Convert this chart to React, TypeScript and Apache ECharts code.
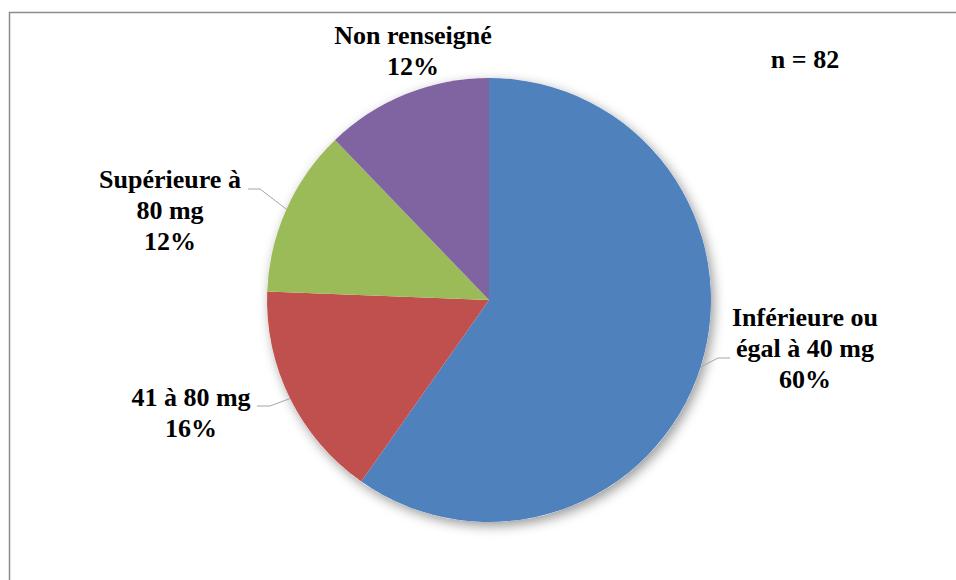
import React, { useEffect, useRef } from "react";
import * as echarts from "echarts";

const categories = [
  "Inférieure ou\négal à 40 mg",
  "41 à 80 mg",
  "Supérieure à\n80 mg",
  "Non renseigné",
];
const values = [49, 13, 10, 10];
const colors = ["#4F81BD", "#C0504D", "#9BBB59", "#8064A2"];
const sampleNote = "n = 82";

// label placement: block centre, leader horizontal segment (y, start x near label, knee x)
const labelPlacement = [
  { x: 805, y: 348, lineY: 358, lineStart: 730, lineKnee: 718, showLine: true },
  { x: 191, y: 413, lineY: 406, lineStart: 257, lineKnee: 270, showLine: true },
  { x: 170, y: 210, lineY: 189, lineStart: 248, lineKnee: 260, showLine: true },
  { x: 413, y: 51, lineY: 51, lineStart: 413, lineKnee: 413, showLine: false },
];

const FONT = "Times New Roman, Liberation Serif, DejaVu Serif, serif";

export default function App() {
  const ref = useRef<HTMLDivElement>(null);
  useEffect(() => {
    if (!ref.current) return;
    const chart = echarts.init(ref.current, undefined, { renderer: "svg" });
    const total = values.reduce((a, b) => a + b, 0);
    chart.setOption({
      animation: false,
      backgroundColor: "#ffffff",
      textStyle: { fontFamily: FONT },
      graphic: [
        {
          type: "rect",
          shape: { x: 9.5, y: 12.5, width: 1000, height: 700 },
          style: { fill: "none", stroke: "#8c8c8c", lineWidth: 1.5 },
          silent: true,
          z: 0,
        },
        {
          type: "text",
          x: 805,
          y: 59,
          style: {
            text: sampleNote,
            font: "bold 26px " + FONT,
            fill: "#000",
            align: "center",
            verticalAlign: "middle",
          },
        },
      ],
      series: [
        {
          type: "pie",
          silent: true,
          center: [489, 300],
          radius: 222,
          startAngle: 90,
          z: 1,
          label: { show: false },
          labelLine: { show: false },
          itemStyle: {
            color: "#ffffff",
            shadowBlur: 12,
            shadowColor: "rgba(0,0,0,0.4)",
            shadowOffsetX: 3,
            shadowOffsetY: 4,
          },
          data: [{ value: total, name: "" }],
        },
        {
          type: "pie",
          center: [489, 300],
          radius: 222,
          startAngle: 90,
          clockwise: true,
          z: 2,
          avoidLabelOverlap: false,
          label: {
            show: true,
            position: "outside",
            formatter: (p: any) => `${p.name}\n${Math.round(p.percent)}%`,
            fontFamily: FONT,
            fontWeight: "bold",
            fontSize: 26,
            lineHeight: 31,
            color: "#000",
            align: "center",
          },
          labelLine: {
            show: true,
            length: 15,
            length2: 12,
            smooth: false,
            lineStyle: { color: "#A6A6A6", width: 1 },
          },
          labelLayout: (params: any) => {
            const lp = labelPlacement[params.dataIndex];
            const res: any = {
              x: lp.x,
              y: lp.y,
              align: "center",
              verticalAlign: "middle",
            };
            if (lp.showLine && params.labelLinePoints) {
              const p0 = params.labelLinePoints[0];
              res.labelLinePoints = [
                [p0[0], p0[1]],
                [lp.lineKnee, lp.lineY],
                [lp.lineStart, lp.lineY],
              ];
            }
            return res;
          },
          data: categories.map((name, i) => ({
            name,
            value: values[i],
            itemStyle: { color: colors[i] },
            labelLine: { show: labelPlacement[i].showLine },
          })),
        },
      ],
    });
    return () => chart.dispose();
  }, []);
  return (
    <div
      ref={ref}
      style={{ position: "absolute", left: 0, top: 0, width: 956, height: 580 }}
    />
  );
}
